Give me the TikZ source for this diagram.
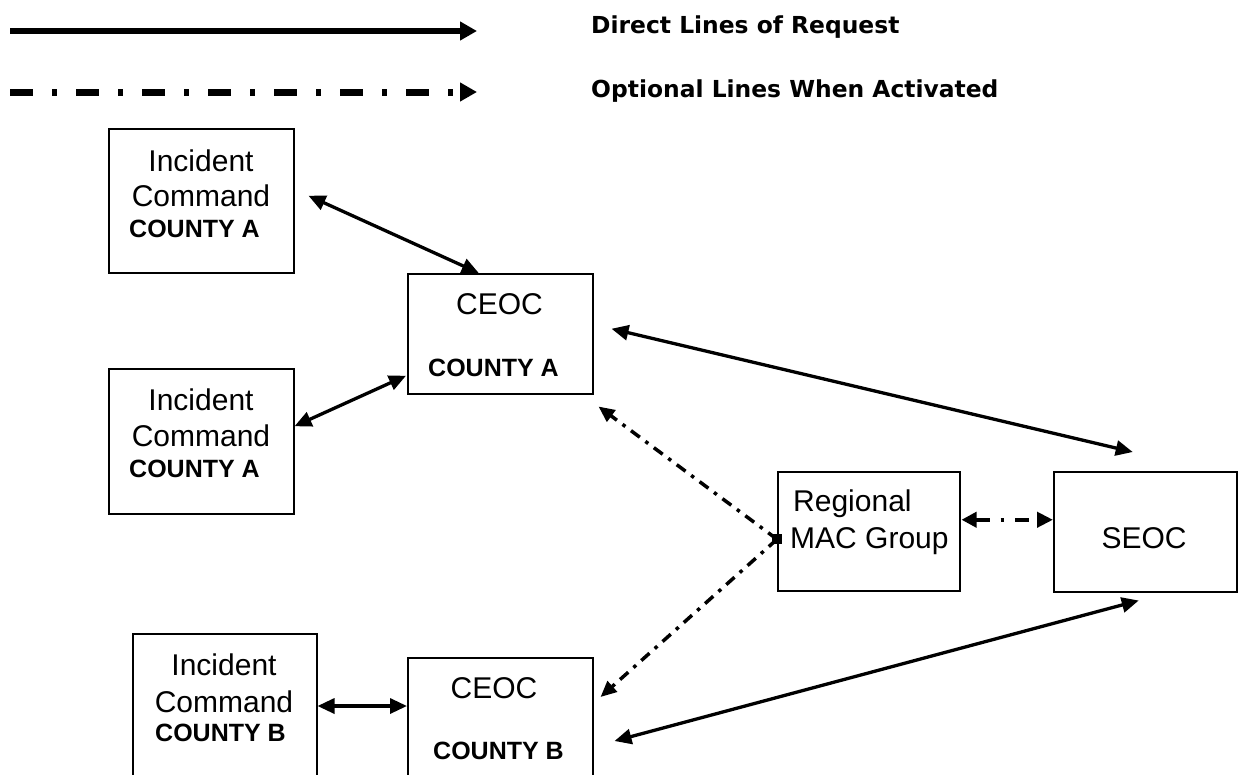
\documentclass[tikz,border=0pt]{standalone}
\usepackage{fontspec}
\setmainfont{Liberation Sans}
\newfontfamily\legendfont{DejaVu Sans}
\usetikzlibrary{arrows.meta}

\begin{document}
\begin{tikzpicture}[x=1pt,y=-1pt,
  box/.style={draw, line width=1.5pt, rectangle, inner sep=0pt, anchor=north west},
  big/.style={font=\fontsize{30}{36}\selectfont, inner sep=0pt, anchor=base},
  bigleft/.style={big, anchor=base west},
  tag/.style={font=\bfseries\fontsize{25}{30}\selectfont, inner sep=0pt, anchor=base west},
  tip/.style={Triangle[length=17pt,width=15pt]},
  direct/.style={line width=3.3pt, {Triangle[length=17pt,width=15pt]}-{Triangle[length=17pt,width=15pt]}},
  optional/.style={line width=3.5pt, dash pattern=on 11pt off 7pt on 3.5pt off 7pt, -{Triangle[length=16pt,width=14pt]}},
  legendtext/.style={font=\legendfont\bfseries\fontsize{23.4}{28}\selectfont, anchor=base west, inner sep=0pt}
]
\clip (0,0) rectangle (1238,774);
\fill[white] (0,0) rectangle (1238,774);

% ---- legend ----
\coordinate (ls0) at (10,31);
\coordinate (ls1) at (477,31);
\coordinate (lo0) at (10,92);
\coordinate (lo1) at (477,92);
\draw[line width=6.5pt, -{Triangle[length=17pt,width=18pt]}] (ls0) -- (ls1);
\draw[line width=7pt, dash pattern=on 23pt off 19pt on 5pt off 19pt,
      -{Triangle[length=17pt,width=18pt]}] (lo0) -- (lo1);
\node[legendtext] (ldirect) at (591,33) {Direct Lines of Request};
\node[legendtext] (loptional) at (591,97) {Optional Lines When Activated};

% ---- boxes ----
\node[box, minimum width=185pt, minimum height=144pt] (icA1) at (108,128) {};
\node[box, minimum width=185pt, minimum height=120pt] (ceocA) at (407,273) {};
\node[box, minimum width=185pt, minimum height=145pt] (icA2) at (108,368) {};
\node[box, minimum width=182pt, minimum height=119pt] (mac) at (777,471) {};
\node[box, minimum width=183pt, minimum height=120pt] (seoc) at (1053,471) {};
\node[box, minimum width=184pt, minimum height=170pt] (icB) at (132,633) {};
\node[box, minimum width=185pt, minimum height=150pt] (ceocB) at (407,657) {};

% ---- box texts ----
\node[big] (icA1a) at (201,171) {Incident};
\node[big] (icA1b) at (201,206) {Command};
\node[tag] (icA1c) at (129,237) {COUNTY A};

\node[big] (ceocAa) at (499.5,314) {CEOC};
\node[tag] (ceocAb) at (428,376) {COUNTY A};

\node[big] (icA2a) at (201,410) {Incident};
\node[big] (icA2b) at (201,446) {Command};
\node[tag] (icA2c) at (129,477) {COUNTY A};

\node[bigleft] (maca) at (793,511) {Regional};
\node[bigleft] (macb) at (790,548) {MAC Group};

\node[big] (seoca) at (1144,548) {SEOC};

\node[big] (icBa) at (224,675) {Incident};
\node[big] (icBb) at (224,712) {Command};
\node[tag] (icBc) at (155,741) {COUNTY B};

\node[big] (ceocBa) at (494,698) {CEOC};
\node[tag] (ceocBb) at (433,759) {COUNTY B};

% ---- direct lines ----
\draw[direct] ([shift={(14,-5)}]icA1.east) -- ([shift={(-21.5,0)}]ceocA.north);
\draw[direct] ([shift={(0,-15)}]icA2.east) -- ([shift={(-1,42)}]ceocA.west);
\draw[direct] ([shift={(18,-5)}]ceocA.east) -- ([shift={(-12.5,-19)}]seoc.north);
\draw[direct] ([shift={(0,73)}]icB.north east) -- ([shift={(0,49)}]ceocB.north west);
\draw[direct] ([shift={(21,84)}]ceocB.north east) -- ([shift={(-6.5,8)}]seoc.south);

% ---- optional lines ----
\node[fill, rectangle, minimum size=10pt, inner sep=0pt] (hub) at ([shift={(0,8)}]mac.west) {};
\draw[optional] (hub.center) -- ([shift={(5,12)}]ceocA.south east);
\draw[optional] (hub.center) -- ([shift={(7,40)}]ceocB.north east);
\draw[line width=4.5pt, dash pattern=on 14pt off 11pt on 3.5pt off 11pt,
      {Triangle[length=15pt,width=15pt]}-{Triangle[length=16pt,width=15pt]}]
      ([shift={(1,-11.5)}]mac.east) -- ([shift={(0,-12)}]seoc.west);
\end{tikzpicture}
\end{document}
